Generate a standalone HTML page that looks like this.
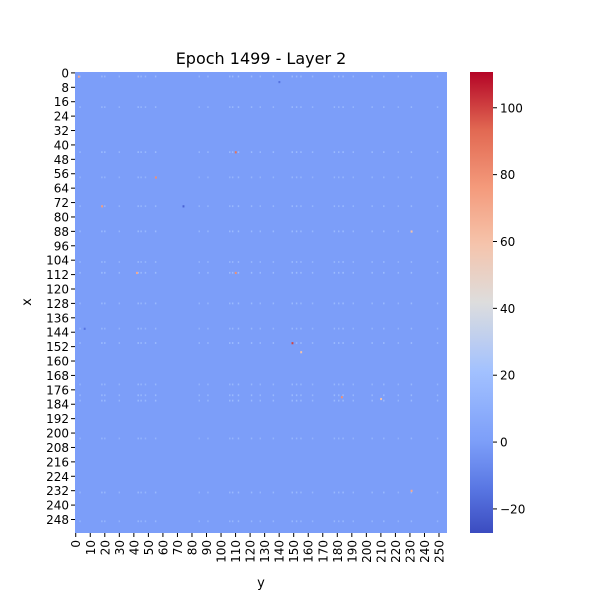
<!DOCTYPE html>
<html><head><meta charset="utf-8"><style>
body{margin:0;background:#fff;font-family:"Liberation Sans","DejaVu Sans",sans-serif}
svg text{font-family:"DejaVu Sans","Liberation Sans",sans-serif}
</style></head><body>
<svg id="c" width="600" height="600" xmlns="http://www.w3.org/2000/svg">
<rect width="600" height="600" fill="#fff"/>
<text x="261" y="64" font-size="16" text-anchor="middle">Epoch 1499 - Layer 2</text>
<g id="plot"></g>
<g id="axes"></g>
<text x="261" y="587" font-size="13" text-anchor="middle">y</text>
<text transform="translate(31,302) rotate(-90)" font-size="13" text-anchor="middle">x</text>
<defs><linearGradient id="cg" x1="0" y1="1" x2="0" y2="0"></linearGradient></defs>
<rect x="470" y="72" width="23" height="461" fill="url(#cg)"/>
<g id="cbt"></g>
</svg>
<script>
const activeRows=[2,19,44,58,74,88,105,111,128,142,150,173,179,182,203,233,249];
const activeCols=[3,18,20,30,43,45,48,55,85,91,106,108,112,121,127,136,149,152,155,163,178,181,184,191,204,212,222,231,249];
const rowVals=[8,7,9,6,7,9,7,10,8,7,9,7,8,9,6,8,7];
const colVals=[6,8,7,5,9,7,6,8,5,6,7,8,9,8,6,7,9,8,7,6,8,7,9,6,7,8,5,8,6];
const hotRows=[2,88,111,58,150,44,180,232,74,111,155,181,74,5,142];
const hotCols=[2,231,42,55,149,110,183,231,18,110,155,210,74,140,6];
const hotVals=[70,60,70,80,100,90,80,70,75,80,60,60,-20,-15,-15];
const cbTicks=[-20,0,20,40,60,80,100];
const vmin=-27.2,vmax=110.7,N=256;
const X0=75,X1=447,Y0=72,Y1=533;
const cw=(X1-X0)/N,ch=(Y1-Y0)/N;
const stops=[[0,[59,76,192]],[0.1,[90,120,228]],[0.197,[124,158,249]],[0.35,[162,193,255]],[0.5,[221,221,221]],[0.625,[245,196,172]],[0.75,[244,154,123]],[0.875,[225,104,82]],[1,[180,4,38]]];
function cmap(v){let t=Math.max(0,Math.min(1,(v-vmin)/(vmax-vmin)));for(let i=1;i<stops.length;i++){if(t<=stops[i][0]){const a=stops[i-1],b=stops[i],f=(t-a[0])/(b[0]-a[0]);return 'rgb('+a[1].map((c,k)=>Math.round(c+(b[1][k]-c)*f)).join(',')+')';}}return 'rgb(180,4,38)';}
const xs=j=>X0+j*cw, ys=i=>Y0+i*ch;
const NS='http://www.w3.org/2000/svg';
function mk(t,a,p){const e=document.createElementNS(NS,t);for(const k in a)e.setAttribute(k,a[k]);p.appendChild(e);return e;}
const plot=document.getElementById('plot');
const bg=mk('rect',{x:X0,y:Y0,width:X1-X0,height:Y1-Y0,fill:cmap(0)},plot);


activeRows.forEach((r,i)=>activeCols.forEach((c,j)=>{
 const e=mk('rect',{x:xs(c),y:ys(r),width:cw,height:ch,fill:cmap(rowVals[i]+colVals[j])},plot);
 
 
}));
hotRows.forEach((r,i)=>{
 const e=mk('rect',{x:xs(hotCols[i]),y:ys(r),width:cw*1.3,height:ch*1.2,fill:cmap(hotVals[i])},plot);
 
 
});
const ax=document.getElementById('axes');
for(let i=0;i<N;i+=8){const y=ys(i+0.5);
 mk('line',{x1:X0-4,x2:X0,y1:y,y2:y,stroke:'#000'},ax);
 const t=mk('text',{x:X0-6,y:y+4.5,'font-size':12,'text-anchor':'end'},ax);t.textContent=i;
 
 }
for(let j=0;j<N;j+=10){const x=xs(j+0.5);
 mk('line',{x1:x,x2:x,y1:Y1,y2:Y1+4,stroke:'#000'},ax);
 const t=mk('text',{transform:`translate(${x+4.5},${Y1+7}) rotate(-90)`,'font-size':12,'text-anchor':'end'},ax);t.textContent=j;
 
 }
const g=document.getElementById('cg');
for(let k=0;k<=40;k++){const v=vmin+(vmax-vmin)*k/40;mk('stop',{offset:k/40,'stop-color':cmap(v)},g);}
const cb=document.getElementById('cbt');
cbTicks.forEach(v=>{const y=Y1-(v-vmin)/(vmax-vmin)*(Y1-Y0);
 mk('line',{x1:493,x2:497,y1:y,y2:y,stroke:'#000'},cb);
 const t=mk('text',{x:500,y:y+4.5,'font-size':12},cb);t.textContent=v<0?'\u2212'+(-v):v;
 
 });
</script>
</body></html>
